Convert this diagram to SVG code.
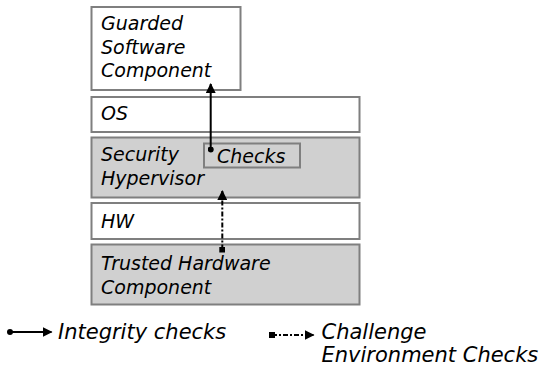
<svg xmlns="http://www.w3.org/2000/svg" width="544" height="368" viewBox="0 0 544 368">
  <style>
    .box { stroke: #7f7f7f; stroke-width: 2; fill: #ffffff; }
    .shaded { fill: #d0d0d0; }
    .lbl { font-family: "DejaVu Sans", sans-serif; font-style: italic; font-size: 19px; fill: #000; }
    .leg { font-size: 21px; }
    .solid { stroke: #000; stroke-width: 2; fill: none; }
    .dashdot { stroke: #000; stroke-width: 2; fill: none; stroke-dasharray: 5 2 2 2; }
  </style>
  <defs>
    <marker id="head" viewBox="0 0 10 10" refX="9" refY="5" markerWidth="5" markerHeight="5" orient="auto" markerUnits="strokeWidth">
      <path d="M0,0 L10,5 L0,10 Z" fill="#000"/>
    </marker>
    <marker id="dot" viewBox="0 0 10 10" refX="5" refY="5" markerWidth="3" markerHeight="3" markerUnits="strokeWidth">
      <circle cx="5" cy="5" r="5" fill="#000"/>
    </marker>
    <marker id="sq" viewBox="0 0 10 10" refX="5" refY="5" markerWidth="3" markerHeight="3" markerUnits="strokeWidth">
      <rect x="0" y="0" width="10" height="10" fill="#000"/>
    </marker>
  </defs>

  <g id="guarded">
    <rect class="box" x="91.5" y="7" width="149" height="83"/>
    <text class="lbl" x="101" y="30">Guarded</text>
    <text class="lbl" x="101" y="53.5">Software</text>
    <text class="lbl" x="101" y="77">Component</text>
  </g>
  <g id="os">
    <rect class="box" x="91.5" y="97" width="268" height="35"/>
    <text class="lbl" x="101" y="120">OS</text>
  </g>
  <g id="hypervisor">
    <rect class="box shaded" x="91.5" y="137.5" width="268" height="60"/>
    <text class="lbl" x="101" y="161">Security</text>
    <text class="lbl" x="101" y="184.5">Hypervisor</text>
  </g>
  <g id="checks">
    <rect class="box shaded" x="204" y="143.5" width="96" height="24"/>
    <text class="lbl" x="217" y="163">Checks</text>
  </g>
  <g id="hw">
    <rect class="box" x="91.5" y="203" width="268" height="36"/>
    <text class="lbl" x="101" y="228">HW</text>
  </g>
  <g id="trusted">
    <rect class="box shaded" x="91.5" y="244.5" width="268" height="60"/>
    <text class="lbl" x="101" y="269.5">Trusted Hardware</text>
    <text class="lbl" x="101" y="293.5">Component</text>
  </g>

  <g id="connectors">
    <line class="solid" x1="210.7" y1="149.5" x2="210.7" y2="84" marker-start="url(#dot)" marker-end="url(#head)"/>
    <line class="dashdot" x1="222.3" y1="249.5" x2="222.3" y2="191" marker-start="url(#sq)" marker-end="url(#head)"/>
  </g>

  <g id="legend">
    <line class="solid" x1="10" y1="332" x2="51.5" y2="332" marker-start="url(#dot)" marker-end="url(#head)"/>
    <text class="lbl leg" x="58" y="338.5">Integrity checks</text>
    <line class="dashdot" x1="272" y1="335" x2="313.5" y2="335" marker-start="url(#sq)" marker-end="url(#head)"/>
    <text class="lbl leg" x="321.5" y="338.5">Challenge</text>
    <text class="lbl leg" x="321.5" y="361.5">Environment Checks</text>
  </g>
</svg>
